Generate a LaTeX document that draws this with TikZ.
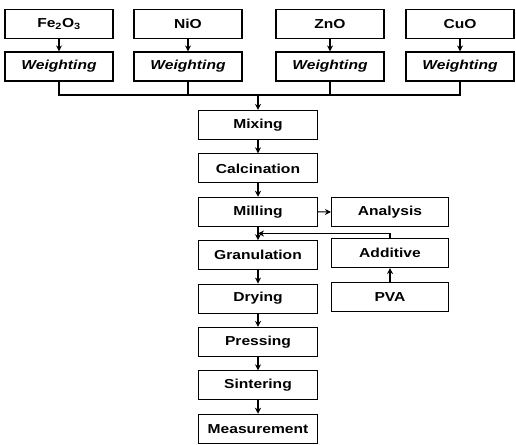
\documentclass[tikz,border=0pt]{standalone}
\usepackage{fontspec}
\setmainfont[FakeStretch=1.2]{Liberation Sans}
\usetikzlibrary{arrows.meta}

\begin{document}
\begin{tikzpicture}[x=1pt,y=1pt,
    stepbox/.style={draw, line width=\boxthickness, minimum width=\stepwidth, minimum height=\boxheight,
        inner sep=0pt, font=\bfseries\fontsize{13}{15}\selectfont},
    oxbox/.style={stepbox, minimum width=\oxwidth},
    flow/.style={line width=\boxthickness, -{Stealth[length=6pt,width=6pt]}},
    bus/.style={line width=\boxthickness}]
    % Define box size
    \def\oxwidth{108}
    \def\stepwidth{119}
    \def\boxheight{29}
    \def\boxthickness{1.1pt} % Parameterized line thickness
    \def\mainx{258}
    \def\sidex{390}

    \useasboundingbox (0,0) rectangle (516,444);

    % Raw oxides and weighting
    \foreach \ox/\xpos [count=\i] in {Fe\textsubscript{2}O\textsubscript{3}/59, NiO/188, ZnO/330, CuO/460} {
        \node[oxbox] (ox\i) at (\xpos, 420) {\ox};
        \node[oxbox, font=\bfseries\itshape\fontsize{13}{15}\selectfont] (wt\i) at (\xpos, 377.5) {Weighting};
        \draw[flow] (ox\i.south) -- (wt\i.north);
    }

    % Main process column
    \foreach \name/\step [count=\i] in {mix/Mixing, calc/Calcination, mill/Milling, gran/Granulation,
        dry/Drying, press/Pressing, sint/Sintering, meas/Measurement} {
        \pgfmathsetmacro\ypos{319 - (\i - 1)*43.4}
        \node[stepbox] (\name) at (\mainx, \ypos) {\step};
    }
    \foreach \a/\b in {mix/calc, calc/mill, mill/gran, gran/dry, dry/press, press/sint, sint/meas}
        \draw[flow] (\a.south) -- (\b.north);

    % Side column
    \node[stepbox, minimum width=117] (ana) at (\sidex, 232) {Analysis};
    \node[stepbox, minimum width=117] (add) at (\sidex, 191) {Additive};
    \node[stepbox, minimum width=117] (pva) at (\sidex, 147) {PVA};

    % Collecting line
    \coordinate (join) at (\mainx, 349);
    \draw[bus] (wt1.south) -- (wt1.south |- join) -- (wt4.south |- join) -- (wt4.south);
    \draw[bus] (wt2.south) -- (wt2.south |- join);
    \draw[bus] (wt3.south) -- (wt3.south |- join);
    \draw[flow] (join) -- (mix.north);

    % Side connections
    \coordinate (merge) at (\mainx, 210.5);
    \draw[flow] (mill.east) -- (ana.west);
    \draw[flow] (add.north) |- (merge);
    \draw[flow] (pva.north) -- (add.south);

\end{tikzpicture}
\end{document}
